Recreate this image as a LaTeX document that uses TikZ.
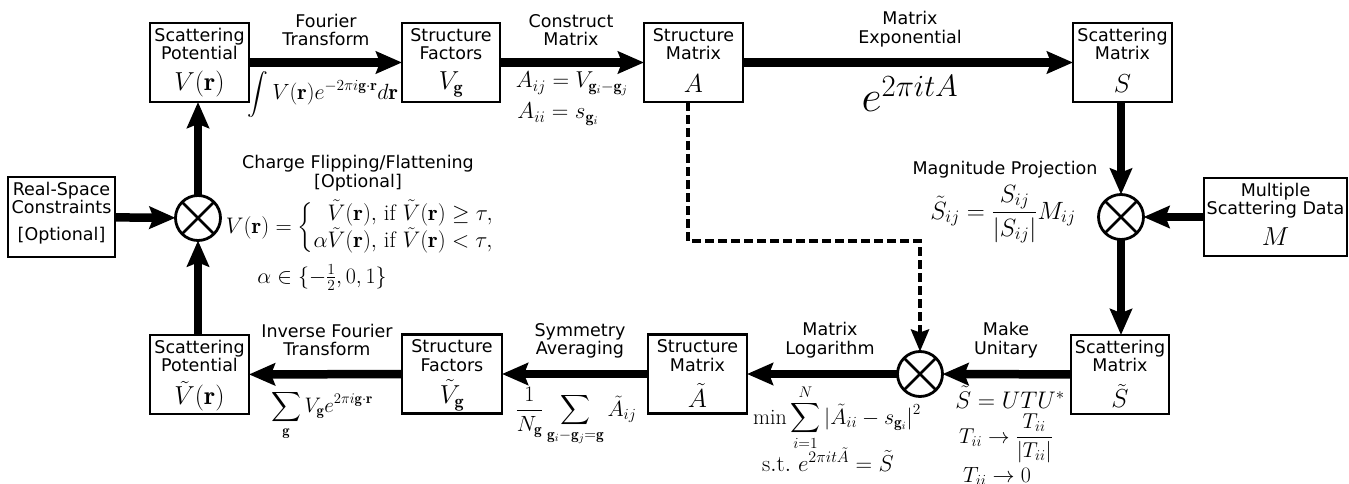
\RequirePackage{fix-cm}
\documentclass[tikz,border=0pt]{standalone}
\usepackage{amsmath}
\usepackage{fontspec}
\newfontfamily\dejavu{DejaVu Sans}
\usetikzlibrary{arrows.meta,calc}
\begin{document}
\begin{tikzpicture}[x=1pt,y=-1pt,
  blk/.style={draw, line width=2.2pt, inner sep=0, outer sep=0, minimum width=99pt, minimum height=79pt},
  txt/.style={font=\dejavu\fontsize{17.5}{18.5}\selectfont, align=center, inner sep=0},
  eqn/.style={inner sep=0, font=\fontsize{#1}{#1}\selectfont},
  arr/.style={line width=8.5pt, -{Stealth[length=26pt,width=22pt,inset=4pt]}},
  dsh/.style={line width=4pt, dash pattern=on 9pt off 4pt, -{Stealth[length=22pt,width=18pt,inset=3pt]}},
  ox/.style={circle, draw, line width=2.8pt, minimum size=45pt, inner sep=0, outer sep=0,
    path picture={\draw[line width=2.8pt] (path picture bounding box.north west) -- (path picture bounding box.south east)
      (path picture bounding box.north east) -- (path picture bounding box.south west);}}
]
\useasboundingbox (0,0) rectangle (1349,484);
% blocks
\node[blk] (sp) at (199.5,62.5) {};
\node[blk, minimum width=98pt] (sf) at (451,62.5) {};
\node[blk] (sm) at (693.5,62.5) {};
\node[blk] (sc) at (1122.5,62.5) {};
\node[blk, minimum width=143pt, minimum height=78pt] (msd) at (1275.5,217) {};
\node[blk, minimum width=98pt] (sct) at (1120,374.5) {};
\node[blk] (smt) at (697.5,374) {};
\node[blk, minimum width=100pt] (sft) at (452,374) {};
\node[blk] (spt) at (199.5,374.5) {};
\node[blk, minimum width=107pt, minimum height=80pt] (rsc) at (61.5,217) {};
% junctions
\node[ox] (ol) at (198,218) {};
\node[ox] (or) at (1121,217) {};
\node[ox] (ob) at (920,374) {};
% block texts
\node[txt, anchor=north] at ([yshift=-5pt]sp.north) {Scattering\\Potential};
\node[eqn=26, anchor=center] at ([yshift=18pt]sp.south) {$V(\mathbf{r})$};
\node[txt, anchor=north] at ([yshift=-5pt]sf.north) {Structure\\Factors};
\node[eqn=26, anchor=center] at ([yshift=18pt]sf.south) {$V_{\mathbf{g}}$};
\node[txt, anchor=north] at ([yshift=-5pt]sm.north) {Structure\\Matrix};
\node[eqn=26, anchor=center] at ([yshift=18pt]sm.south) {$A$};
\node[txt, anchor=north] at ([yshift=-5pt]sc.north) {Scattering\\Matrix};
\node[eqn=26, anchor=center] at ([yshift=18pt]sc.south) {$S$};
\node[txt, anchor=north] at ([yshift=-5pt]msd.north) {Multiple\\Scattering Data};
\node[eqn=26, anchor=center] at ([yshift=19pt]msd.south) {$M$};
\node[txt, anchor=north] at ([yshift=-5pt]sct.north) {Scattering\\Matrix};
\node[eqn=26, anchor=center] at ([yshift=18pt]sct.south) {$\tilde{S}$};
\node[txt, anchor=north] at ([yshift=-5pt]smt.north) {Structure\\Matrix};
\node[eqn=26, anchor=center] at ([yshift=18pt]smt.south) {$\tilde{A}$};
\node[txt, anchor=north] at ([yshift=-5pt]sft.north) {Structure\\Factors};
\node[eqn=26, anchor=center] at ([yshift=18pt]sft.south) {$\tilde{V}_{\mathbf{g}}$};
\node[txt, anchor=north] at ([yshift=-5pt]spt.north) {Scattering\\Potential};
\node[eqn=26, anchor=center] at ([yshift=18pt]spt.south) {$\tilde{V}(\mathbf{r})$};
\node[txt, anchor=north] at ([yshift=-5pt]rsc.north) {Real-Space\\Constraints};
\node[txt, anchor=base] at (61.5,240) {[Optional]};
% connectors
\draw[arr] (sp) -- (sf);
\draw[arr] (sf) -- (sm);
\draw[arr] (sm) -- (sc);
\draw[arr] (or.north |- sc.south) -- (or.north);
\draw[arr] (msd) -- (or);
\draw[arr] (or.south) -- (or.south |- sct.north);
\draw[arr] (sct) -- (ob);
\draw[arr] (ob) -- (smt);
\draw[arr] (smt) -- (sft);
\draw[arr] (sft) -- (spt);
\draw[arr] (ol.south |- spt.north) -- (ol.south);
\draw[arr] (ol.north) -- (ol.north |- sp.south);
\draw[arr] (rsc) -- (ol);
\coordinate (dk) at (920,241);
\draw[dsh] ([xshift=-5.5pt]sm.south) |- (dk) -- (ob.north);
% edge labels, top row
\node[txt] at (326,30) {Fourier\\Transform};
\node[eqn=22, anchor=base] at (323,100) {$\displaystyle\int V(\mathbf{r})e^{-2\pi i\mathbf{g}\cdot\mathbf{r}}d\mathbf{r}$};
\node[txt] at (571,30) {Construct\\Matrix};
\node[eqn=23, anchor=base] at (572,88) {$A_{ij}=V_{\mathbf{g}_i-\mathbf{g}_j}$};
\node[eqn=23, anchor=base] at (558,119) {$A_{ii}=s_{\mathbf{g}_i}$};
\node[txt] at (910,29) {Matrix\\Exponential};
\node[eqn=44, anchor=base] at (910,112) {$e^{2\pi itA}$};
% middle
\node[txt] at (358,173) {Charge Flipping/Flattening\\{[}Optional{]}};
\node[eqn=22.5, anchor=base] at (360,233) {$V(\mathbf{r})=\left\{\begin{array}{@{}r@{}l@{}}\tilde{V}(\mathbf{r}),&\ \mathrm{if}\ \tilde{V}(\mathbf{r})\geq\tau,\\ \alpha\tilde{V}(\mathbf{r}),&\ \mathrm{if}\ \tilde{V}(\mathbf{r})<\tau,\end{array}\right.$};
\node[eqn=22, anchor=base] at (322,283) {$\alpha\in\{-\frac{1}{2},0,1\}$};
\node[txt, anchor=base] at (1005,175) {Magnitude Projection};
\node[eqn=25, anchor=base] at (1003,219) {$\displaystyle\tilde{S}_{ij}=\frac{S_{ij}}{|S_{ij}|}M_{ij}$};
% bottom row
\node[txt] at (327,340) {Inverse Fourier\\Transform};
\node[eqn=21, anchor=base] at (322,412) {$\displaystyle\sum_{\mathbf{g}}V_{\mathbf{g}}e^{2\pi i\mathbf{g}\cdot\mathbf{r}}$};
\node[txt] at (580,341) {Symmetry\\Averaging};
\node[eqn=22, anchor=base] at (576,416) {$\displaystyle\frac{1}{N_{\mathbf{g}}}\sum_{\mathbf{g}_i-\mathbf{g}_j=\mathbf{g}}\tilde{A}_{ij}$};
\node[txt] at (830,340) {Matrix\\Logarithm};
\node[eqn=22, anchor=base] at (837,424) {$\displaystyle\min\sum_{i=1}^{N}|\tilde{A}_{ii}-s_{\mathbf{g}_i}|^2$};
\node[eqn=23, anchor=base] at (828,471) {$\mathrm{s.t.}\ e^{2\pi it\tilde{A}}=\tilde{S}$};
\node[txt] at (1006,340) {Make\\Unitary};
\node[eqn=24, anchor=base] at (1010,408) {$\tilde{S}=UTU^{*}$};
\node[eqn=21.5, anchor=base] at (1006,443) {$T_{ii}\to\dfrac{T_{ii}}{|T_{ii}|}$};
\node[eqn=22, anchor=base] at (997,482) {$T_{ii}\to 0$};
\end{tikzpicture}
\end{document}
